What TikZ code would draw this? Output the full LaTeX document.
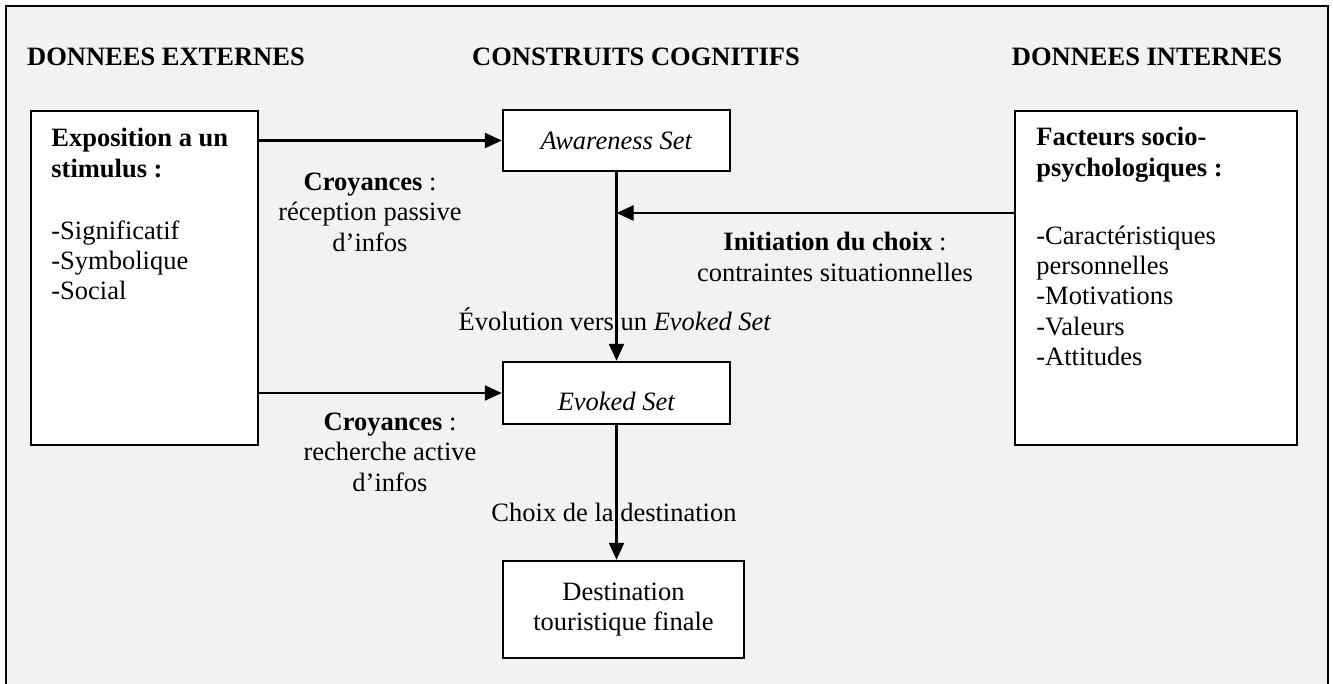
\documentclass[tikz,border=0pt]{standalone}
\usepackage{fontspec}
\setmainfont{Liberation Serif}
\usetikzlibrary{arrows.meta}

\definecolor{fondgris}{HTML}{F2F2F2}
\tikzset{
  boite/.style={draw, line width=1.2pt, fill=white, inner sep=0pt},
  fleche/.style={line width=1.1pt, -{Triangle[length=8.5pt,width=7.5pt]}},
  titre/.style={font=\bfseries, inner sep=0pt},
  etiq/.style={align=center, inner sep=0pt},
  liste/.style={align=left, inner sep=0pt, anchor=north west},
}

\begin{document}
\fontsize{13.25}{15.2}\selectfont
\begin{tikzpicture}[x=0.5pt, y=-0.5pt]

        \useasboundingbox (0,0) rectangle (1333,684);
        % cadre gris, ouvert en bas
        \fill[fondgris] (6,6) rectangle (1328,684);
        \draw[line width=0.9pt] (6,684) -- (6,6) -- (1328,6) -- (1328,684);

        % titres des colonnes
        \node[titre] (tex) at (166,57) {DONNEES EXTERNES};
        \node[titre] (tcog) at (636,57) {CONSTRUITS COGNITIFS};
        \node[titre] (tint) at (1147,57) {DONNEES INTERNES};

        % boites
        \node[boite, anchor=north west, minimum width=113.5pt, minimum height=167pt] (expo) at (30,110) {};
        \node[liste] (expotxt) at (51,128) {\textbf{Exposition a un}\\\textbf{stimulus :}\\[15.8pt]-Significatif\\-Symbolique\\-Social};

        \node[boite, minimum width=113.5pt, minimum height=30.5pt] (aware) at (616.5,140.5) {\textit{Awareness Set}};
        \node[boite, minimum width=113.5pt, text height=24pt, text depth=7pt] (evoked) at (616.5,393) {\textit{Evoked Set}};
        \node[boite, minimum width=120.5pt, minimum height=48.5pt, align=center] (dest) at (623.5,609.5) {Destination\\touristique finale};

        \node[boite, anchor=north west, minimum width=141pt, minimum height=167pt] (socio) at (1014,110) {};
        \node[liste] (sociotxt) at (1036,127) {\textbf{Facteurs socio-}\\\textbf{psychologiques :}\\[18.8pt]-Caractéristiques\\personnelles\\-Motivations\\-Valeurs\\-Attitudes};

        % etiquettes
        \node[etiq] (croy1) at (370,212) {\textbf{Croyances} :\\réception passive\\d’infos};
        \node[etiq] (croy2) at (390,452) {\textbf{Croyances} :\\recherche active\\d’infos};
        \node[etiq] (initi) at (835,257) {\textbf{Initiation du choix} :\\contraintes situationnelles};
        \node[etiq] (evol) at (615,319) {Évolution vers un \textit{Evoked Set}};
        \node[etiq] (choix) at (614,512) {Choix de la destination};

        % fleches
        \coordinate (jonction) at (616.5,213);
        \draw[fleche] (expo.east |- aware.west) -- (aware.west);
        \draw[fleche] (expo.east |- evoked.west) -- (evoked.west);
        \draw[fleche] (aware.south) -- (evoked.north);
        \draw[fleche] (socio.west |- jonction) -- (jonction);
        \draw[fleche] (evoked.south) -- (evoked.south |- dest.north);

\end{tikzpicture}
\end{document}
